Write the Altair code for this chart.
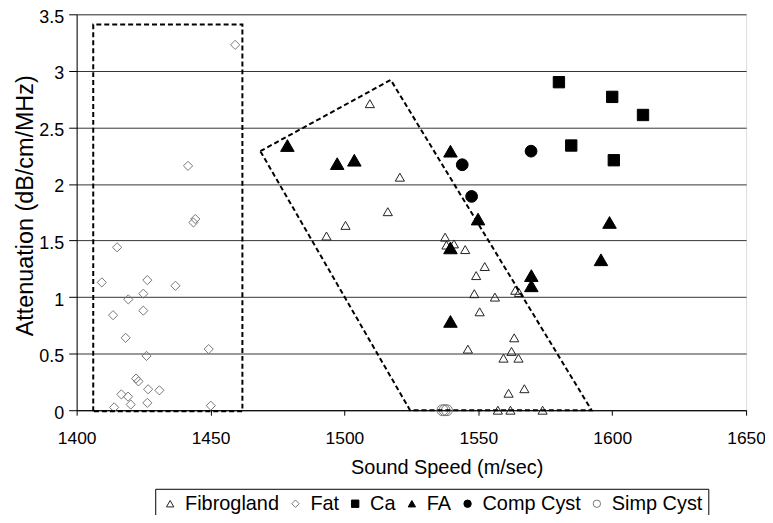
import altair as alt
import pandas as pd

series_order = ["Fibrogland", "Fat", "Ca", "FA", "Comp Cyst", "Simp Cyst"]

fibro_x = [1509.5, 1520.7, 1516.2, 1500.4, 1493.3, 1537.6, 1538.1, 1540.9, 1545.1, 1552.4,
           1549.2, 1548.5, 1556.2, 1550.5, 1546.1, 1559.4, 1557.3, 1563.8, 1565.2, 1563.4,
           1562.4, 1565.0, 1567.2, 1561.3, 1562.0, 1574.0]
fibro_y = [2.71, 2.06, 1.755, 1.634, 1.54, 1.53, 1.46, 1.47, 1.42, 1.27,
           1.19, 1.03, 1.00, 0.87, 0.54, 0.46, 0.0, 1.06, 1.04, 0.64,
           0.52, 0.46, 0.19, 0.15, 0.0, 0.0]

fat_x = [1459.2, 1441.6, 1443.6, 1444.3, 1415.1, 1409.4, 1426.4, 1436.9, 1424.9, 1419.3,
         1413.6, 1424.9, 1418.3, 1449.3, 1426.1, 1422.2, 1423.1, 1426.7, 1430.9, 1416.7,
         1419.2, 1426.4, 1420.2, 1414.0, 1450.1]
fat_y = [3.23, 2.16, 1.66, 1.69, 1.44, 1.13, 1.15, 1.10, 1.03, 0.98,
         0.84, 0.88, 0.64, 0.54, 0.48, 0.28, 0.255, 0.185, 0.176, 0.14,
         0.12, 0.065, 0.05, 0.025, 0.04]

ca_x = [1580.1, 1600.0, 1611.5, 1584.7, 1600.6]
ca_y = [2.90, 2.77, 2.61, 2.34, 2.21]

fa_x = [1478.7, 1497.3, 1503.7, 1539.6, 1549.9, 1539.6, 1539.6, 1599.0, 1595.8, 1569.8, 1569.8]
fa_y = [2.34, 2.18, 2.21, 2.29, 1.69, 1.435, 0.785, 1.66, 1.33, 1.19, 1.10]

comp_x = [1544.0, 1547.5, 1569.7]
comp_y = [2.17, 1.89, 2.29]

simp_x = [1536.6, 1537.4, 1538.3]
simp_y = [0.0, 0.0, 0.0]

fat_box_x = [1406.2, 1406.2, 1461.9, 1461.9, 1406.2]
fat_box_y = [-0.01, 3.41, 3.41, -0.01, -0.01]
fa_box_x = [1468.6, 1517.3, 1592.3, 1524.5, 1468.6]
fa_box_y = [2.29, 2.92, 0.0, 0.0, 2.29]

shapes = ["triangle-up", "diamond", "square", "triangle-up", "circle", "circle"]
fills = ["transparent", "transparent", "black", "black", "black", "transparent"]
strokes = ["#222222", "#777777", "black", "black", "black", "#777777"]
sizes = [85, 85, 130, 185, 140, 120]

series_data = [("Fibrogland", fibro_x, fibro_y), ("Fat", fat_x, fat_y), ("Ca", ca_x, ca_y),
               ("FA", fa_x, fa_y), ("Comp Cyst", comp_x, comp_y), ("Simp Cyst", simp_x, simp_y)]

lrows = []
for name, xs, ys in [("fatbox", fat_box_x, fat_box_y), ("fabox", fa_box_x, fa_box_y)]:
    for i, (x, y) in enumerate(zip(xs, ys)):
        lrows.append({"box": name, "idx": i, "speed": x, "att": y})
dfl = pd.DataFrame(lrows)

FONT = "Liberation Sans"

leg = alt.Legend(
    title=None, orient="none", legendX=79, legendY=477, direction="horizontal",
    labelFontSize=20, labelFont=FONT, labelColor="black", symbolSize=55, symbolStrokeWidth=1,
    strokeColor="black", fillColor="white", padding=5, columnPadding=6, labelOffset=5,
)

xscale = alt.Scale(domain=[1400, 1650], nice=False, zero=False)
yscale = alt.Scale(domain=[0, 3.5], nice=False)

xaxis = alt.Axis(
    values=[1400, 1450, 1500, 1550, 1600, 1650], format="d", grid=False,
    tickSize=5, tickColor="black", domainColor="black", labelFontSize=17.5, labelPadding=14,
    labelFlush=False, labelFont=FONT, labelColor="black",
    title="Sound Speed (m/sec)", titleFontSize=20, titleFont=FONT, titleFontWeight="normal",
    titleColor="black", titleX=372, titleY=58, titleBaseline="middle")
yaxis = alt.Axis(
    values=[0, 0.5, 1, 1.5, 2, 2.5, 3, 3.5], format="~g", grid=True, gridColor="#333333",
    gridWidth=1, tickSize=8, tickColor="black", domainColor="black", labelFontSize=18,
    labelPadding=5, labelOffset=3, labelFlush=False, labelFont=FONT, labelColor="black",
    title="Attenuation (dB/cm/MHz)", titleFontSize=23.5, titleFont=FONT,
    titleFontWeight="normal", titleColor="black", titleX=-51, titleY=192,
    titleBaseline="middle")

layers = []
for k, (name, xs, ys) in enumerate(series_data):
    d = pd.DataFrame({"series": [name] * len(xs), "speed": xs, "att": ys})
    lg = leg if k == 0 else None
    layers.append(
        alt.Chart(d).mark_point(opacity=1, strokeWidth=1, size=sizes[k]).encode(
            x=alt.X("speed:Q", scale=xscale, axis=xaxis),
            y=alt.Y("att:Q", scale=yscale, axis=yaxis),
            shape=alt.Shape("series:N", scale=alt.Scale(domain=series_order, range=shapes), legend=lg),
            fill=alt.Fill("series:N", scale=alt.Scale(domain=series_order, range=fills), legend=lg),
            stroke=alt.Stroke("series:N", scale=alt.Scale(domain=series_order, range=strokes), legend=lg),
        )
    )

lines = alt.Chart(dfl).mark_line(color="black", strokeDash=[5, 3], strokeWidth=2).encode(
    x=alt.X("speed:Q", scale=xscale),
    y=alt.Y("att:Q", scale=yscale),
    detail="box:N",
    order="idx:Q",
)

chart = alt.layer(*layers, lines).properties(
    width=673, height=398,
    padding={"left": 69, "top": 5, "right": 19, "bottom": 104},
    autosize=alt.AutoSizeParams(type="none"),
).configure_view(stroke="black", strokeWidth=1.5).configure(background="white")

chart.save("out.html", embed_options={"renderer": "svg", "actions": False})
